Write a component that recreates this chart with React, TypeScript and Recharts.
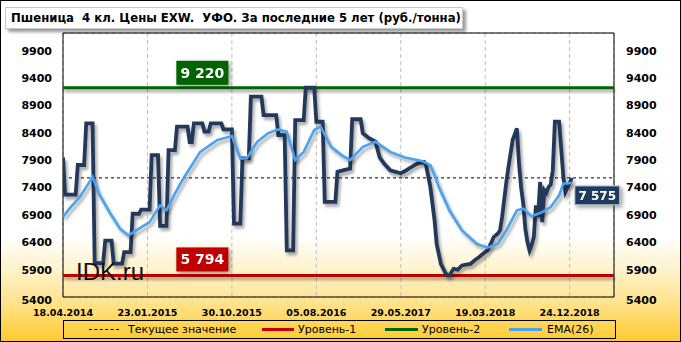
import { LineChart, Line, XAxis, YAxis, CartesianGrid, ReferenceLine, ReferenceDot, ReferenceArea } from 'recharts'

// weekly prices, week 0 = 18.04.2014
const dateLabels = ['18.04.2014', '23.01.2015', '30.10.2015', '05.08.2016', '29.05.2017', '19.03.2018', '24.12.2018']
const tickWeeks = [0, 40, 80, 120, 160, 200, 240]
const yTicks = [5400, 5900, 6400, 6900, 7400, 7900, 8400, 8900, 9400, 9900]

const level1 = 5794
const level2 = 9220
const current = 7575
const lastWeek = 241

const price: [number, number][] = [
  [0, 7950], [1, 7270], [6, 7270], [7, 7810], [10, 7810], [11, 8570], [14, 8570], [15, 6020],
  [19, 6020], [20, 6430], [23, 6430], [24, 6010], [28, 6010], [29, 6220], [32, 6220], [33, 6920],
  [36, 6920], [37, 6995], [41, 6995], [42, 7990], [45, 7990], [46, 6700], [49, 6700], [50, 8080],
  [53, 8080], [54, 8510], [59, 8510], [60, 8230], [61, 8230], [62, 8570], [66, 8570], [67, 8420],
  [69, 8420], [70, 8570], [75, 8570], [76, 8460], [80, 8460], [81, 6740], [84, 6740], [85, 7930],
  [88, 7930], [89, 9060], [94, 9060], [95, 8720], [101, 8720], [102, 8355], [105, 8355], [106, 6250],
  [109, 6250], [110, 8630], [114, 8630], [115, 9220], [119, 9220], [120, 8600], [123, 8600], [124, 7135],
  [129, 7135], [130, 7685], [133, 7715], [136, 7745], [137, 8645], [141, 8645], [142, 8390], [145, 8300],
  [148, 8240], [150, 7950], [152, 7840], [155, 7715], [160, 7660], [162, 7700], [164, 7750], [168, 7840],
  [171, 7867], [172, 7800], [174, 7410], [176, 6800], [177, 6370], [179, 6005], [181, 5850], [182, 5794],
  [183, 5794], [185, 5915], [187, 5900], [189, 5975], [191, 5990], [193, 6005], [195, 6070], [197, 6127],
  [199, 6190], [201, 6250], [203, 6400], [204, 6493], [206, 6560], [207, 6616], [208, 6860], [210, 7500],
  [211, 7775], [213, 8265], [215, 8480], [216, 7840], [217, 7400], [218, 7105], [219, 6647], [220, 6400],
  [221, 6250], [222, 6350], [223, 6493], [224, 7074], [225, 6860], [226, 7500], [227, 6768], [228, 7350],
  [229, 7300], [230, 7410], [231, 7450], [232, 7715], [233, 8600], [235, 8600], [236, 8100], [237, 7590],
  [238, 7320], [239, 7410], [240, 7480], [241, 7575],
]

const ema: [number, number][] = [
  [0, 6860], [3, 7013], [8, 7226], [12, 7470], [14, 7592], [17, 7288], [22, 6950], [27, 6647],
  [31, 6525], [36, 6647], [41, 6768], [46, 7074], [49, 6983], [53, 7288], [57, 7563], [60, 7745],
  [65, 8050], [73, 8265], [80, 8338], [84, 7930], [87, 7930], [92, 8233], [97, 8387], [102, 8460],
  [106, 8417], [110, 7900], [114, 8050], [119, 8448], [122, 8510], [127, 8142], [132, 7990], [136, 7900],
  [142, 8142], [148, 8233], [155, 8050], [162, 7947], [170, 7885], [174, 7807], [176, 7623], [178, 7410],
  [183, 6983], [189, 6616], [196, 6372], [201, 6300], [206, 6372], [210, 6616], [215, 6983], [218, 7013],
  [222, 6873], [227, 6950], [231, 7043], [235, 7257], [237, 7470], [241, 7480],
]

const priceData = price.map(([w, v]) => ({ w, v }))
const emaData = ema.map(([w, v]) => ({ w, v }))

const font = 'DejaVu Sans, Verdana, sans-serif'

const fmt = (v: number) => {
  const s = String(v)
  return s.slice(0, s.length - 3) + ' ' + s.slice(-3)
}

const YTick = (props: any) => {
  const { x, y, payload, textAnchor } = props
  return (
    <text x={x} y={y} dy={payload.value === 5400 ? 7 : 4} textAnchor={textAnchor}
      fontFamily={font} fontWeight='bold' fontSize={11} fill='#000'>
      {payload.value}
    </text>
  )
}

const LevelTag = ({ cx, cy, fill, value }: any) => (
  <g style={{ filter: 'drop-shadow(2px 2px 2px rgba(0,0,0,0.4))' }}>
    <rect x={cx - 26} y={cy - 28} width={52} height={24} fill={fill} />
    <text x={cx} y={cy - 11} textAnchor='middle' fontFamily={font} fontWeight='bold' fontSize={14} fill='#fff'>
      {fmt(value)}
    </text>
  </g>
)

const CurrentTag = ({ cx, cy }: any) => (
  <g style={{ filter: 'drop-shadow(2px 2px 2px rgba(0,0,0,0.4))' }}>
    <rect x={cx + 3} y={cy + 8} width={45} height={19} fill='#1F3A5F' stroke='#d0d8e4' strokeWidth={1} />
    <text x={cx + 25.5} y={cy + 22} textAnchor='middle' fontFamily={font} fontWeight='bold' fontSize={12} fill='#fff'>
      {fmt(current)}
    </text>
  </g>
)

const legendItems = [
  { label: 'Текущее значение', color: '#000', dash: true, line: 30, gap: 9, left: 88 },
  { label: 'Уровень-1', color: '#C00000', dash: false, line: 32, gap: 4, left: 261 },
  { label: 'Уровень-2', color: '#006400', dash: false, line: 33, gap: 4, left: 384 },
  { label: 'EMA(26)', color: '#4AA3F0', dash: false, line: 33, gap: 5, left: 508 },
]

export default function App() {
  return (
    <div style={{
      position: 'relative', width: 681, height: 342, boxSizing: 'border-box', border: '1px solid #000',
      background: 'linear-gradient(to bottom, #ffffff 0%, #ffffff 69%, #FFF3CC 79%, #FFE28A 89%, #FFCB30 100%)',
      overflow: 'hidden',
    }}>
      <style>{`
        body { margin: 0; }
        .price-line path, .ema-line path { filter: drop-shadow(2px 3px 1.5px rgba(0,0,0,0.35)); }
        line.lvl, .lvl > line { filter: drop-shadow(1px 3px 1.5px rgba(0,0,0,0.35)); }
      `}</style>
      <div style={{ position: 'absolute', left: -1, top: -1 }}>
        <LineChart width={681} height={342} margin={{ top: 33, right: 0, bottom: 0, left: 0 }}>
          <CartesianGrid stroke='#BFBFBF' strokeDasharray='4 3' />
          <XAxis
            dataKey='w'
            type='number'
            domain={[0, 261]}
            ticks={tickWeeks}
            tickFormatter={(w: number) => dateLabels[w / 40]}
            height={45}
            tickLine={false}
            axisLine={false}
            tickMargin={6}
            tick={{ fontSize: 9.5, fontWeight: 'bold', fill: '#000', fontFamily: font }}
            allowDataOverflow
          />
          <YAxis
            yAxisId='left'
            type='number'
            domain={[5400, 10220]}
            ticks={yTicks}
            width={63}
            tickLine={false}
            axisLine={false}
            tickMargin={5}
            tick={<YTick />}
            allowDataOverflow
          />
          <YAxis
            yAxisId='right'
            orientation='right'
            type='number'
            domain={[5400, 10220]}
            ticks={yTicks}
            width={67}
            tickLine={false}
            axisLine={false}
            tickMargin={6}
            tick={<YTick />}
            allowDataOverflow
          />
          <ReferenceArea yAxisId='left' x1={0} x2={261} y1={5400} y2={10220} fill='none' stroke='#000' strokeWidth={1} />
          <ReferenceLine yAxisId='left' y={current} stroke='#000' strokeWidth={1} strokeDasharray='3 3' />
          <ReferenceLine yAxisId='left' y={level2} stroke='#006400' strokeWidth={3} className='lvl' />
          <ReferenceLine yAxisId='left' y={level1} stroke='#C00000' strokeWidth={3} className='lvl' />
          <Line
            yAxisId='left'
            data={priceData}
            dataKey='v'
            type='linear'
            stroke='#23395B'
            strokeWidth={3.8}
            dot={false}
            className='price-line'
            isAnimationActive={false}
          />
          <Line
            yAxisId='left'
            data={emaData}
            dataKey='v'
            type='linear'
            stroke='#4AA3F0'
            strokeWidth={2.6}
            dot={false}
            className='ema-line'
            isAnimationActive={false}
          />
          <ReferenceDot yAxisId='left' x={66} y={level2} r={0}
            shape={(p: any) => <LevelTag cx={p.cx} cy={p.cy + 1} fill='#006400' value={level2} />} />
          <ReferenceDot yAxisId='left' x={66} y={level1} r={0}
            shape={(p: any) => <LevelTag cx={p.cx} cy={p.cy} fill='#C00000' value={level1} />} />
          <ReferenceDot yAxisId='left' x={lastWeek} y={current} r={0}
            shape={(p: any) => <CurrentTag cx={p.cx} cy={p.cy} />} />
        </LineChart>
      </div>
      <svg width={681} height={342} style={{ position: 'absolute', left: -1, top: -1, pointerEvents: 'none' }}>
        <text x={76} y={280} fontFamily='Liberation Sans, Arial, sans-serif' fontSize={24} fill='#111'>IDK.ru</text>
      </svg>
      <div style={{
        position: 'absolute', left: 4, top: 6, width: 458, height: 22, boxSizing: 'border-box',
        background: '#fff', border: '1px solid #c8c8c8', boxShadow: '3px 3px 3px rgba(0,0,0,0.4)',
        fontFamily: 'DejaVu Sans Condensed, DejaVu Sans, sans-serif', fontWeight: 'bold', fontSize: 13,
        lineHeight: '20px', paddingLeft: 5, whiteSpace: 'pre', color: '#000',
      }}>
        {'Пшеница  4 кл. Цены EXW.  УФО. За последние 5 лет (руб./тонна)'}
      </div>
      <div style={{
        position: 'absolute', left: 62, top: 319, width: 553, height: 19, boxSizing: 'border-box',
        border: '1px solid #000',
      }}>
        {legendItems.map((it) => (
          <div key={it.label} style={{ position: 'absolute', left: it.left - 63, top: 0, height: 17, display: 'flex', alignItems: 'center' }}>
            <span style={{
              display: 'inline-block', width: it.line, height: 0,
              borderTop: it.dash ? `1px dashed ${it.color}` : `3px solid ${it.color}`, marginRight: it.gap,
            }} />
            <span style={{ fontFamily: font, fontSize: 11, color: '#000', whiteSpace: 'nowrap' }}>{it.label}</span>
          </div>
        ))}
      </div>
    </div>
  )
}
